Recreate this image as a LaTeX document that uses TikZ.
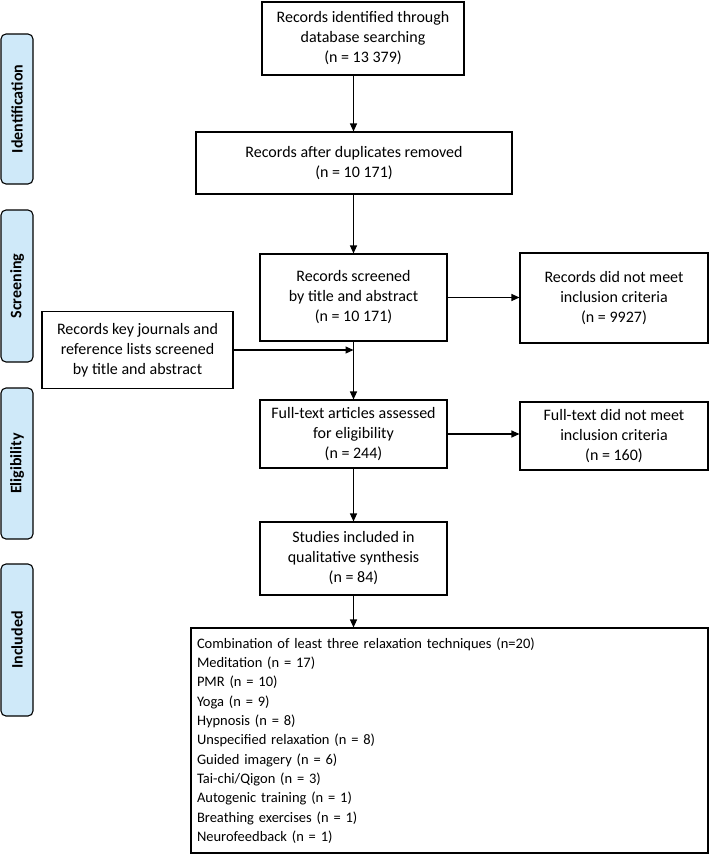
\documentclass[tikz,border=0pt]{standalone}
\usepackage{fontspec}
\setmainfont{Carlito}
\usepackage{xcolor}
\usetikzlibrary{positioning, arrows.meta}

\definecolor{phasefill}{HTML}{CFE9F9}

\begin{document}
\begin{tikzpicture}[x=1pt, y=-1pt]

			% Styles
			\tikzset{
				box/.style={
					rectangle, draw, line width=1.1pt,
					align=center, inner sep=2pt,
					font=\fontsize{16}{20}\selectfont
				},
				phase/.style={
					rectangle, draw, rounded corners=5pt, line width=1.1pt,
					fill=phasefill, rotate=90,
					minimum height=32pt,
					font=\fontsize{16}{18}\selectfont\bfseries
				},
				arrow/.style={line width=1.1pt, -{Triangle[length=8pt, width=7pt]}}
			}

			\useasboundingbox (0,0) rectangle (710,855);

			% Phases on the left
			\node (identification) [phase, minimum width=150pt] at (17,109) {Identification};
			\node (screening) [phase, minimum width=152pt] at (17,286) {Screening};
			\node (eligibility) [phase, minimum width=151pt] at (17,463.5) {Eligibility};
			\node (included) [phase, minimum width=152pt] at (17,640) {Included};

			% Main column
			\node (ident) [box, minimum width=202pt, minimum height=73pt] at (363,38.5)
				{Records identified through\\database searching\\(n = 13 379)};
			\node (dedup) [box, minimum width=316pt, minimum height=62pt] at (354,163)
				{Records after duplicates removed\\(n = 10 171)};
			\node (screen) [box, minimum width=187pt, minimum height=87pt] at (353.5,297.5)
				{Records screened\\by title and abstract\\(n = 10 171)};
			\node (full) [box, minimum width=187pt, minimum height=68pt] at (353.5,434)
				{Full-text articles assessed\\for eligibility\\(n = 244)};
			\node (incl) [box, minimum width=187pt, minimum height=73pt] at (353.5,558.5)
				{Studies included in\\qualitative synthesis\\(n = 84)};
			\node (list) [box, align=left, inner sep=6pt, text width=505pt, minimum height=225pt,
				font=\fontsize{14.5}{19.3}\selectfont] at (449.5,740.5)
				{Combination of least three relaxation techniques (n=20)\\
				 Meditation (n = 17)\\
				 PMR (n = 10)\\
				 Yoga (n = 9)\\
				 Hypnosis (n = 8)\\
				 Unspecified relaxation (n = 8)\\
				 Guided imagery (n = 6)\\
				 Tai-chi/Qigon (n = 3)\\
				 Autogenic training (n = 1)\\
				 Breathing exercises (n = 1)\\
				 Neurofeedback (n = 1)};

			% Side boxes
			\node (excl1) [box, minimum width=188pt, minimum height=90pt] at (614,298)
				{Records did not meet\\inclusion criteria\\(n = 9927)};
			\node (excl2) [box, minimum width=188pt, minimum height=68pt] at (614,436)
				{Full-text did not meet\\inclusion criteria\\(n = 160)};
			\node (other) [box, minimum width=191pt, minimum height=77pt] at (137.5,350)
				{Records key journals and\\reference lists screened\\by title and abstract};

			% Arrows
			\draw[arrow] (ident.south -| screen.north) -- (dedup.north -| screen.north);
			\draw[arrow] (dedup.south -| screen.north) -- (screen.north);
			\draw[arrow] (screen.east) -- (excl1.west |- screen.east);
			\draw[arrow] (screen.south) -- (full.north);
			\draw[arrow] (other.east) -- (other.east -| screen.south);
			\draw[arrow] (full.east) -- (excl2.west |- full.east);
			\draw[arrow] (full.south) -- (incl.north);
			\draw[arrow] (incl.south) -- (list.north -| incl.south);

\end{tikzpicture}
\end{document}
